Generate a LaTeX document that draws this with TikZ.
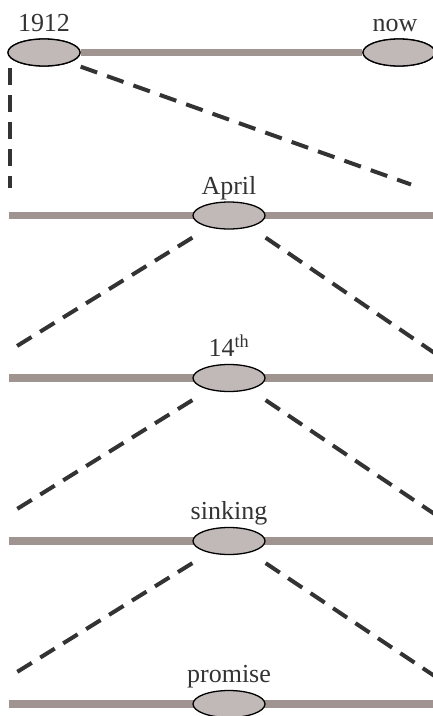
\documentclass[tikz,border=0pt]{standalone}
\usepackage{fontspec}
\setmainfont{Liberation Serif}
\usetikzlibrary{shapes.geometric,calc}
\definecolor{barcol}{HTML}{A09490}
\definecolor{ellfill}{HTML}{C1B9B7}
\definecolor{dashcol}{HTML}{333333}
\definecolor{txtcol}{HTML}{333333}
\tikzset{
  ev/.style={ellipse, draw=black, line width=1.3pt, fill=ellfill, minimum width=72pt, minimum height=27pt, inner sep=0pt},
  bar/.style={draw=barcol, line width=7.5pt},
  zoomline/.style={draw=dashcol, line width=4pt, dash pattern=on 17pt off 10pt},
  lbl/.style={anchor=base, inner sep=0pt, text=txtcol, font=\fontsize{26}{30}\selectfont}
}
\begin{document}
\begin{tikzpicture}[x=1pt,y=-1pt]
\useasboundingbox (0,0) rectangle (433,716);
% level 0
\node[ev] (y1912) at (44,52.5) {};
\node[ev] (now) at (399,52.5) {};
\draw[bar] (y1912.east) -- (now.west);
\node[ev] at (y1912) {};
\node[ev] at (now) {};
\node[lbl] (t1912) at ([yshift=7pt]y1912.north) {1912};
\node[lbl] (tnow) at ([yshift=7pt,xshift=-4pt]now.north) {now};
% bar ends
\coordinate (l1) at (9,215.5);  \coordinate (r1) at (433,215.5);
\coordinate (l2) at (9,378);    \coordinate (r2) at (433,378);
\coordinate (l3) at (9,541);    \coordinate (r3) at (433,541);
\coordinate (l4) at (9,704);    \coordinate (r4) at (433,704);
\draw[bar] (l1) -- (r1);
\draw[bar] (l2) -- (r2);
\draw[bar] (l3) -- (r3);
\draw[bar] (l4) -- (r4);
\node[ev] (april) at (229,215.5) {};
\node[ev] (d14) at (229,378) {};
\node[ev] (sink) at (229,541) {};
\node[ev] (prom) at (229,704) {};
\node[lbl] at ([yshift=7pt]april.north) {April};
\node[lbl] at ([yshift=7pt]d14.north) {14\textsuperscript{th}};
\node[lbl] at ([yshift=7pt]sink.north) {sinking};
\node[lbl] at ([yshift=7pt]prom.north) {promise};
% free ends of the zoom lines
\coordinate (v0) at (10,68);
\coordinate (v1) at (10,188);
\coordinate (a1) at (411,184.5);
\coordinate (b1) at (17,346); \coordinate (c1) at (436,354);
\coordinate (b2) at (17,509); \coordinate (c2) at (436,515);
\coordinate (b3) at (17,672); \coordinate (c3) at (436,677);
\draw[zoomline] (v0) -- (v1);
\draw[zoomline, dash pattern=on 17.5pt off 10.5pt] (y1912.south -| y1912.east) -- (a1);
\draw[zoomline] ([yshift=-8pt]april.south -| april.west) -- (b1);
\draw[zoomline] ([yshift=-8pt]april.south -| april.east) -- (c1);
\draw[zoomline] ([yshift=-8pt]d14.south -| d14.west) -- (b2);
\draw[zoomline] ([yshift=-8pt]d14.south -| d14.east) -- (c2);
\draw[zoomline] ([yshift=-8pt]sink.south -| sink.west) -- (b3);
\draw[zoomline] ([yshift=-8pt]sink.south -| sink.east) -- (c3);
\end{tikzpicture}
\end{document}
